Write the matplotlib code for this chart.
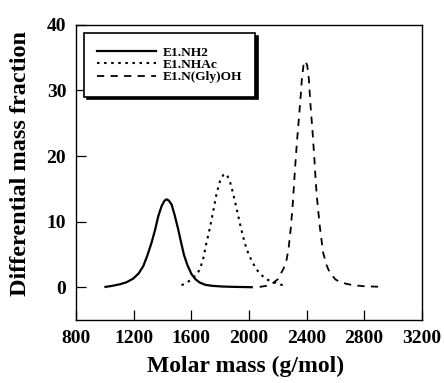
import matplotlib
matplotlib.use("Agg")
import matplotlib.pyplot as plt

plt.rcParams['font.family'] = ['Liberation Serif', 'DejaVu Serif']
plt.rcParams['font.weight'] = 'bold'

# Data
nh2_x = [1005, 1050, 1105, 1150, 1197, 1235, 1267, 1295, 1325, 1350, 1371, 1395,
         1415, 1430, 1445, 1464, 1485, 1510, 1530, 1550, 1575, 1602, 1630, 1660,
         1700, 1750, 1820, 1900, 2020]
nh2_y = [0.05, 0.2, 0.45, 0.75, 1.3, 2.1, 3.2, 4.8, 6.8, 8.8, 10.8, 12.4,
         13.2, 13.4, 13.2, 12.6, 11.0, 8.8, 6.8, 4.9, 3.3, 2.0, 1.2, 0.7,
         0.35, 0.2, 0.1, 0.05, 0.0]

nhac_x = [1533, 1570, 1602, 1635, 1660, 1685, 1706, 1725, 1741, 1760, 1776, 1800,
          1822, 1836, 1849, 1870, 1891, 1915, 1937, 1960, 1984, 2020, 2053, 2090,
          2123, 2160, 2192, 2250]
nhac_y = [0.3, 0.7, 1.2, 1.9, 2.7, 4.5, 6.8, 8.6, 10.3, 12.4, 14.3, 16.2,
          17.1, 17.3, 17.1, 16.0, 14.3, 12.0, 9.8, 7.7, 5.8, 4.0, 2.7, 1.8,
          1.2, 0.85, 0.6, 0.2]

gly_x = [2075, 2120, 2157, 2200, 2240, 2260, 2275, 2290, 2305, 2318, 2332, 2347,
         2358, 2368, 2380, 2393, 2405, 2416, 2428, 2442, 2455, 2465, 2474, 2492,
         2515, 2540, 2562, 2600, 2631, 2680, 2723, 2800, 2930]
gly_y = [0.05, 0.2, 0.45, 1.2, 2.8, 4.0, 5.8, 8.8, 12.8, 17.3, 21.7, 25.7,
         28.7, 31.8, 34.0, 34.5, 33.8, 31.8, 27.7, 23.7, 19.4, 15.8, 13.3, 9.3,
         5.3, 3.3, 2.2, 1.2, 0.8, 0.5, 0.3, 0.15, 0.05]

labels = ['E1.NH2', 'E1.NHAc', 'E1.N(Gly)OH']
x_ticks = [800, 1200, 1600, 2000, 2400, 2800, 3200]
y_ticks = [0, 10, 20, 30, 40]

fig = plt.figure(figsize=(4.44, 3.83), dpi=100)
ax = fig.add_axes([0.171, 0.1645, 0.779, 0.7705])

ax.plot(nh2_x, nh2_y, color='black', lw=1.6, ls='-', label=labels[0])
ax.plot(nhac_x, nhac_y, color='black', lw=1.5, ls=(0, (1.2, 2.2)), label=labels[1])
ax.plot(gly_x, gly_y, color='black', lw=1.3, ls=(0, (4, 3.5)), label=labels[2])

ax.set_xlim(800, 3200)
ax.set_ylim(-5, 40)
ax.set_xticks(x_ticks)
ax.set_yticks(y_ticks)
ax.tick_params(direction='in', length=7, width=0.9, labelsize=14, pad=7,
               top=False, right=False)
for lab in ax.get_xticklabels() + ax.get_yticklabels():
    lab.set_fontweight('bold')
for sp in ax.spines.values():
    sp.set_linewidth(1.0)

ax.set_xlabel('Molar mass (g/mol)', fontsize=17, fontweight='bold')
ax.set_ylabel('Differential mass fraction', fontsize=17.5, fontweight='bold')
ax.xaxis.set_label_coords(0.49, -0.12)
ax.yaxis.set_label_coords(-0.13, 0.53)
ax.xaxis.label.set_va('top')
ax.yaxis.label.set_va('bottom')

leg = ax.legend(loc='upper left', bbox_to_anchor=(0.023, 0.973), borderaxespad=0,
                fancybox=False, shadow={'color': 'black', 'alpha': 1.0},
                edgecolor='black', framealpha=1, handlelength=4.4,
                handletextpad=0.5, labelspacing=0.0, borderpad=1.0,
                prop={'family': 'Liberation Serif', 'weight': 'bold', 'size': 9.6})
leg.get_frame().set_linewidth(1.2)

fig.savefig('out.png', dpi=100)
